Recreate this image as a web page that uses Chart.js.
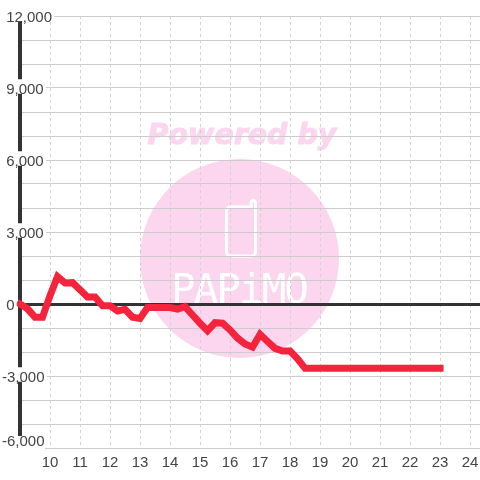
<!DOCTYPE html>
<html>
<head>
<meta charset="utf-8">
<style>
  html, body { margin: 0; padding: 0; background: #fff; }
  canvas { display: block; }
</style>
<script src="https://cdn.jsdelivr.net/npm/chart.js@4"></script>
</head>
<body>
<canvas id="chart" width="480" height="480"></canvas>
<script>
const hours = [9, 9.25, 9.5, 9.75, 10, 10.25, 10.5, 10.75, 11, 11.25, 11.5, 11.75, 12, 12.25, 12.5, 12.75, 13, 13.25, 13.5, 13.75, 14, 14.25, 14.5, 14.75, 15, 15.25, 15.5, 15.75, 16, 16.25, 16.5, 16.75, 17, 17.25, 17.5, 17.75, 18, 18.25, 18.5, 19, 20, 21, 22, 23];
const profit = [0, -200, -550, -550, 350, 1140, 880, 890, 590, 290, 290, -70, -70, -290, -220, -550, -600, -150, -150, -150, -150, -210, -110, -460, -800, -1110, -780, -800, -1080, -1420, -1670, -1800, -1260, -1560, -1850, -1960, -1960, -2280, -2680, -2680, -2680, -2680, -2680, -2680];
// blank line nudges a label off its grid line
const yLabels = { '12000': ['', ' 12,000'], '9000': ['', ' 9,000'], '6000': ['', ' 6,000'], '3000': ['', ' 3,000'], '0': ['', ' 0'], '-3000': ['', '-3,000'], '-6000': ['-6,000', ''] };

const labelColor = '#444444';
const gridColor = '#cccccc';
const dashColor = '#d2d2d2';
const axisColor = '#333333';
const pink = '#fcd6ee';

// logo sits under the grid
const watermark = {
  id: 'watermark',
  beforeDraw(chart) {
    const ctx = chart.ctx;
    ctx.save();
    ctx.fillStyle = '#ffffff';
    ctx.fillRect(0, 0, 480, 480);

    ctx.fillStyle = pink;
    ctx.strokeStyle = pink;
    ctx.beginPath();
    ctx.arc(239.5, 258.5, 99.5, 0, Math.PI * 2);
    ctx.fill();

    ctx.font = 'italic bold 28.5px "DejaVu Sans"';
    ctx.textBaseline = 'alphabetic';
    ctx.textAlign = 'center';
    ctx.lineWidth = 1;
    ctx.fillText('Powered by', 242, 144);
    ctx.strokeText('Powered by', 242, 144);

    // phone
    ctx.strokeStyle = '#ffffff';
    ctx.lineWidth = 3;
    ctx.lineJoin = 'round';
    ctx.beginPath();
    ctx.moveTo(251, 207);
    ctx.lineTo(231, 207);
    ctx.quadraticCurveTo(226.5, 207, 226.5, 211);
    ctx.lineTo(226.5, 251);
    ctx.quadraticCurveTo(226.5, 256, 231, 256);
    ctx.lineTo(251, 256);
    ctx.quadraticCurveTo(255.5, 256, 255.5, 251);
    ctx.lineTo(255.5, 203);
    ctx.quadraticCurveTo(255.5, 200.5, 253, 200.5);
    ctx.quadraticCurveTo(251, 200.5, 251, 203);
    ctx.closePath();
    ctx.stroke();

    ctx.fillStyle = '#ffffff';
    ctx.font = '41px "DejaVu Sans Mono"';
    ctx.letterSpacing = '-2px';
    ctx.fillText('PAPiMO', 239, 303);
    ctx.restore();
  }
};

// the -6,000 label has no backdrop of its own, so clear its spot by hand
const bottomLabelMask = {
  id: 'bottomLabelMask',
  beforeDatasetsDraw(chart) {
    chart.ctx.fillStyle = '#ffffff';
    chart.ctx.fillRect(0, 436, 45, 14);
  }
};

new Chart(document.getElementById('chart'), {
  type: 'line',
  data: {
    datasets: [{
      data: hours.map((h, i) => ({ x: h, y: profit[i] })),
      borderColor: '#f5233b',
      borderWidth: 7,
      borderCapStyle: 'square',
      pointRadius: 0,
      tension: 0,
      clip: false
    }]
  },
  options: {
    responsive: false,
    animation: false,
    layout: { padding: { top: 16 } },
    plugins: { legend: { display: false }, tooltip: { enabled: false } },
    scales: {
      x: {
        type: 'linear',
        min: 9,
        max: 24.33,
        afterFit(scale) { scale.height = 32; scale.paddingRight = 0; scale.paddingLeft = 0; },
        grid: { color: dashColor, lineWidth: 1, drawTicks: false },
        border: { color: gridColor, width: 1, dash: [3, 3] },
        ticks: {
          stepSize: 1,
          includeBounds: false,
          autoSkip: false,
          maxRotation: 0,
          padding: 6,
          color: labelColor,
          font: { family: '"Liberation Sans"', size: 15 },
          callback: v => (v >= 10 ? String(v) : '')
        }
      },
      y: {
        min: -6000,
        max: 12000,
        afterFit(scale) { scale.width = 20; },
        grid: {
          drawTicks: false,
          color: c => (c.tick && c.tick.value === 0 ? axisColor : gridColor),
          lineWidth: c => (c.tick && c.tick.value === 0 ? 3 : 1)
        },
        border: { color: axisColor, width: 4 },
        ticks: {
          stepSize: 1000,
          autoSkip: false,
          mirror: true,
          padding: -18,
          z: 1,
          color: labelColor,
          font: c => ({
            family: '"Liberation Sans"',
            size: 15,
            lineHeight: c.tick && c.tick.value === -6000 ? '12px' : '3px'
          }),
          showLabelBackdrop: c => !!c.tick && yLabels[c.tick.value] !== undefined && c.tick.value !== -6000,
          backdropColor: '#ffffff',
          backdropPadding: { top: 4, bottom: 4, left: 1, right: 2 },
          callback: v => (yLabels[v] !== undefined ? yLabels[v] : '')
        }
      }
    }
  },
  plugins: [watermark, bottomLabelMask]
});
</script>
</body>
</html>
